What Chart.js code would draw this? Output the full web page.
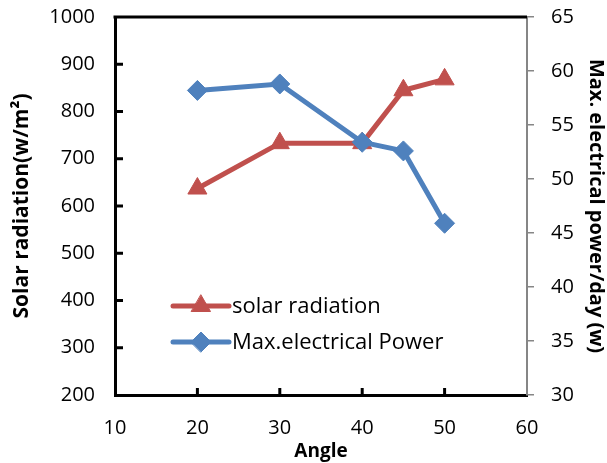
<!DOCTYPE html>
<html>
<head>
<meta charset="utf-8">
<script src="https://cdn.jsdelivr.net/npm/chart.js@4/dist/chart.umd.min.js"></script>
<style>
  html, body { margin: 0; padding: 0; background: #fff; }
</style>
</head>
<body>
<canvas id="angle-chart" width="607" height="463"></canvas>
<script>
'use strict';

// values
var angles = [20, 30, 40, 45, 50];
var solarRadiation = [637, 733, 733, 845, 868];
var maxPower = [58.2, 58.8, 53.4, 52.6, 45.9];

var seriesNames = ['solar radiation', 'Max.electrical Power'];
var xTicks = [10, 20, 30, 40, 50, 60];
var leftTicks = [200, 300, 400, 500, 600, 700, 800, 900, 1000];
var rightTicks = [30, 35, 40, 45, 50, 55, 60, 65];

var RED = '#C0504D';
var BLUE = '#4F81BD';
var FONT = '"Open Sans", "Liberation Sans", sans-serif';

function toPoints(xs, ys) {
	var pts = [];
	for (var i = 0; i < xs.length; i++) {
		pts.push({x: xs[i], y: ys[i]});
	}
	return pts;
}

function fixedTicks(list) {
	return function(scale) {
		scale.ticks = list.map(function(v) { return {value: v}; });
	};
}

function plainNumber(v) {
	return String(v);
}

// top border, inward ticks on bottom/left axes, and the inset legend
var decorations = {
	id: 'decorations',
	afterDraw: function(chart) {
		var ctx = chart.ctx;
		var area = chart.chartArea;
		var xs = chart.scales.x;
		var ys = chart.scales.y;
		ctx.save();
		ctx.strokeStyle = '#000';
		ctx.lineWidth = 3;
		ctx.beginPath();
		ctx.moveTo(area.left - 1.5, area.top);
		ctx.lineTo(area.right, area.top);
		ctx.stroke();

		xTicks.forEach(function(v) {
			if (v === xs.min || v === xs.max) return;
			var px = xs.getPixelForValue(v);
			ctx.beginPath();
			ctx.moveTo(px, area.bottom);
			ctx.lineTo(px, area.bottom - 7);
			ctx.stroke();
		});
		leftTicks.forEach(function(v) {
			if (v === ys.min || v === ys.max) return;
			var py = ys.getPixelForValue(v);
			ctx.beginPath();
			ctx.moveTo(area.left, py);
			ctx.lineTo(area.left + 8, py);
			ctx.stroke();
		});

		// legend
		var lx = area.left + 58;
		var ly = area.top + 289;
		chart.data.datasets.forEach(function(ds, i) {
			var y = ly + i * 36;
			ctx.strokeStyle = ds.borderColor;
			ctx.lineWidth = 5;
			ctx.lineCap = 'round';
			ctx.beginPath();
			ctx.moveTo(lx, y);
			ctx.lineTo(lx + 56, y);
			ctx.stroke();
			ctx.fillStyle = ds.backgroundColor;
			ctx.lineWidth = 1;
			Chart.helpers.drawPoint(ctx, {
				pointStyle: ds.pointStyle,
				radius: ds.pointRadius,
				borderWidth: 1
			}, lx + 28, y);
			ctx.fillStyle = '#000';
			ctx.font = '22px ' + FONT;
			ctx.textBaseline = 'middle';
			ctx.fillText(ds.label, lx + 59, y + 1);
		});
		ctx.restore();
	}
};

var chartConfig = {
	type: 'line',
	data: {
		datasets: [{
			label: seriesNames[0],
			data: toPoints(angles, solarRadiation),
			yAxisID: 'y',
			borderColor: RED,
			backgroundColor: RED,
			borderWidth: 5,
			pointStyle: 'triangle',
			pointRadius: 11,
			pointBorderWidth: 1,
			order: 1
		}, {
			label: seriesNames[1],
			data: toPoints(angles, maxPower),
			yAxisID: 'y1',
			borderColor: BLUE,
			backgroundColor: BLUE,
			borderWidth: 5,
			pointStyle: 'rectRot',
			pointRadius: 10,
			pointBorderWidth: 1,
			order: 0
		}]
	},
	options: {
		responsive: false,
		animation: false,
		layout: { padding: { top: 17, left: 0, right: 0, bottom: 0 } },
		plugins: {
			legend: { display: false },
			tooltip: { enabled: false }
		},
		elements: { line: { tension: 0 } },
		scales: {
			x: {
				type: 'linear',
				min: 10,
				max: 60,
				afterBuildTicks: fixedTicks(xTicks),
				afterFit: function(s) { s.height = 68; s.paddingLeft = 0; s.paddingRight = 0; },
				grid: { display: false, drawTicks: false },
				border: { display: true, color: '#000', width: 3 },
				ticks: { color: '#000', font: { family: FONT, size: 20 }, padding: 21, maxRotation: 0, callback: plainNumber },
				title: {
					display: true,
					text: 'Angle',
					color: '#000',
					font: { family: FONT, size: 19, weight: 'bold' },
					padding: { top: -7, bottom: 0 }
				}
			},
			y: {
				position: 'left',
				min: 200,
				max: 1000,
				afterBuildTicks: fixedTicks(leftTicks),
				afterFit: function(s) { s.width = 115; s.paddingTop = 0; s.paddingBottom = 0; },
				grid: { display: false, drawTicks: false },
				border: { display: true, color: '#000', width: 3 },
				ticks: { color: '#000', font: { family: FONT, size: 20 }, padding: 20, callback: plainNumber },
				title: {
					display: true,
					text: 'Solar radiation(w/m\u00B2)',
					color: '#000',
					font: { family: FONT, size: 21, weight: 'bold' },
					padding: { top: 9, bottom: 0 }
				}
			},
			y1: {
				position: 'right',
				min: 30,
				max: 65,
				afterBuildTicks: fixedTicks(rightTicks),
				afterFit: function(s) { s.width = 80; s.paddingTop = 0; s.paddingBottom = 0; },
				grid: { display: true, drawOnChartArea: false, drawTicks: true, tickLength: 7, color: '#868686', lineWidth: 1.5 },
				border: { display: true, color: '#868686', width: 2 },
				ticks: { color: '#000', font: { family: FONT, size: 20 }, padding: 17, callback: plainNumber },
				title: {
					display: true,
					text: 'Max. electrical power/day (w)',
					color: '#000',
					font: { family: FONT, size: 20, weight: 'bold' },
					padding: { top: -1, bottom: 0 }
				}
			}
		}
	},
	plugins: [decorations]
};

var angleCanvas = document.getElementById('angle-chart').getContext('2d');
var angleChart = new Chart(angleCanvas, chartConfig);
</script>
</body>
</html>
